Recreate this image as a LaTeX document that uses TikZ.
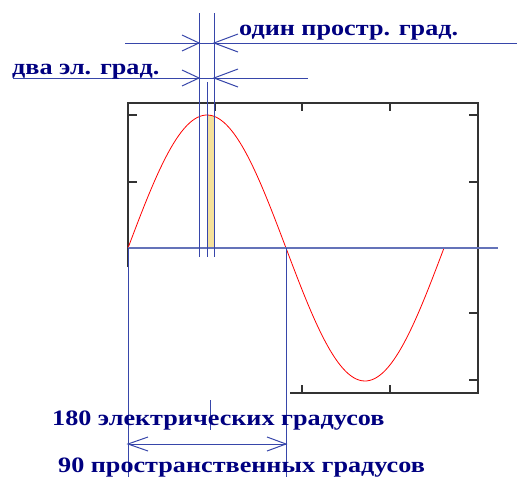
\documentclass[tikz,border=0pt]{standalone}
\usepackage{fontspec}
\setmainfont{Liberation Serif}
\newfontfamily\lblfont{Liberation Serif}[FakeStretch=1.19]
\definecolor{navy}{RGB}{0,0,128}
\definecolor{dimblue}{RGB}{55,70,170}
\definecolor{axblue}{RGB}{100,115,185}
\definecolor{fillyel}{RGB}{245,225,155}
\begin{document}
\begin{tikzpicture}[x=1pt,y=-1pt,
  dimline/.style={draw=dimblue,line width=1pt},
  axline/.style={draw=axblue,line width=1.1pt},
  boxline/.style={draw=black!80,line width=1.4pt},
  lbl/.style={text=navy,font=\lblfont\fontsize{22}{22}\selectfont\bfseries,inner sep=0pt,anchor=base west}]
\useasboundingbox (0,0) rectangle (517,477);
% coordinates
\coordinate (O) at (128,248);
\coordinate (Z) at (286,248);
% shaded strip
\fill[fillyel] plot[domain=79:86,samples=10] ({128+\x},{248-133*sin(\x/158*180)}) -- (214,248) -- (207,248) -- cycle;
% box
\draw[boxline] (128,267) -- (128,103) -- (478,103) -- (478,393) -- (290,393);
\foreach \y in {115,182} \draw[boxline] (128,\y) -- (137,\y);
\foreach \y in {115,182,313,380} \draw[boxline] (478,\y) -- (469,\y);
\foreach \x in {215,302,390} \draw[boxline] (\x,103) -- (\x,111);
\foreach \x in {302,390} \draw[boxline] (\x,393) -- (\x,385);
% sine
\draw[red,line width=0.8pt] plot[domain=0:316,samples=120] ({128+\x},{248-133*sin(\x/158*180)});
% axis
\draw[axline] (O) -- (498,248);
% vertical lines
\coordinate (a1) at (199,13); \coordinate (a2) at (199,257);
\coordinate (b1) at (214,13); \coordinate (b2) at (214,257);
\coordinate (c1) at (207,82); \coordinate (c2) at (207,257);
\draw[dimline] (a1) -- (a2);
\draw[dimline] (b1) -- (b2);
\draw[dimline] (c1) -- (c2);
% horizontal dimension lines
\coordinate (u1) at (125,43); \coordinate (u2) at (517,43);
\coordinate (l1) at (13,78); \coordinate (l2) at (308,78);
\draw[dimline] (u1) -- (u2);
\draw[dimline] (l1) -- (l2);
\foreach \y in {43,78}{
  \draw[dimline] (182,\y-8) -- (199,\y) -- (182,\y+8);
  \draw[dimline] (238,\y-9) -- (214,\y) -- (238,\y+9);
}
% bottom dimension
\coordinate (L) at (128,477); \coordinate (R) at (286,477);
\draw[dimline] (O) -- (L);
\draw[dimline] (Z) -- (R);
\coordinate (d1) at (128,444); \coordinate (d2) at (286,444);
\draw[dimline] (d1) -- (d2);
\draw[dimline] (148,437) -- (d1) -- (148,451);
\draw[dimline] (267,437) -- (d2) -- (267,451);
\draw[dimline,line width=0.7pt] (210,400) -- (210,430);
% labels
\node[lbl] (t1) at (239,35) {один простр. град.};
\node[lbl] (t2) at (12,74) {два эл. град.};
\node[lbl] (t3) at (52,425) {180 электрических градусов};
\node[lbl] (t4) at (58,472) {90 пространственных градусов};
\end{tikzpicture}
\end{document}
